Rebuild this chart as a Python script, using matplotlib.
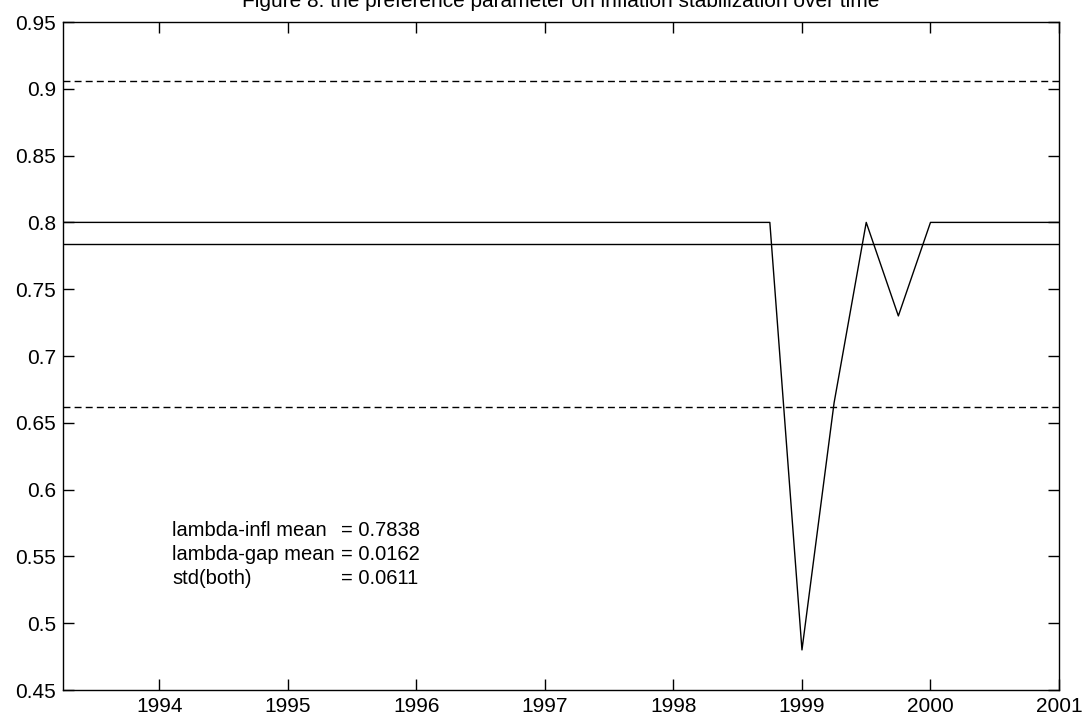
import numpy as np
import matplotlib
matplotlib.use("Agg")
import matplotlib.pyplot as plt
from matplotlib.ticker import FormatStrFormatter, FixedLocator
import matplotlib.transforms as mtransforms

# datos trimestrales 1993.25 .. 2001.00
trimestres = [1993.25, 1993.5, 1993.75, 1994.0, 1994.25, 1994.5, 1994.75, 1995.0,
              1995.25, 1995.5, 1995.75, 1996.0, 1996.25, 1996.5, 1996.75, 1997.0,
              1997.25, 1997.5, 1997.75, 1998.0, 1998.25, 1998.5, 1998.75, 1999.0,
              1999.25, 1999.5, 1999.75, 2000.0, 2000.25, 2000.5, 2000.75, 2001.0]
lambda_infl = [0.80] * 23 + [0.48, 0.665, 0.80, 0.73, 0.80, 0.80, 0.80, 0.80, 0.80]

media = 0.7838
banda_sup = 0.9060
banda_inf = 0.6616

anios = [1994, 1995, 1996, 1997, 1998, 1999, 2000, 2001]
yticks = [0.45, 0.5, 0.55, 0.6, 0.65, 0.7, 0.75, 0.8, 0.85, 0.9, 0.95]

etiquetas = ["lambda-infl mean", "lambda-gap mean", "std(both)"]
valores = ["= 0.7838", "= 0.0162", "= 0.0611"]

plt.rcParams['font.family'] = ['Liberation Sans', 'DejaVu Sans']

fig = plt.figure(figsize=(10.85, 7.21), dpi=100)
ax = fig.add_axes([63 / 1085, 1 - 690 / 721, (1059 - 63) / 1085, (690 - 22) / 721])

ax.plot(trimestres, lambda_infl, color='black', lw=1.0)
ax.axhline(media, color='black', lw=1.0)
ax.axhline(banda_sup, color='black', lw=1.0, dashes=(5, 3))
ax.axhline(banda_inf, color='black', lw=1.0, dashes=(5, 3))

ax.set_xlim(1993.25, 2001)
ax.set_ylim(0.45, 0.95)
ax.xaxis.set_major_locator(FixedLocator(anios))
ax.yaxis.set_major_locator(FixedLocator(yticks))
ax.xaxis.set_major_formatter(FormatStrFormatter('%d'))
ax.set_yticklabels(['%g' % v for v in yticks])
ax.tick_params(direction='in', length=8, width=1, top=True, right=True,
               labelsize=15, pad=5)
for s in ax.spines.values():
    s.set_linewidth(1.0)

for i, (et, va) in enumerate(zip(etiquetas, valores)):
    yy = (690 - (531 + 23.5 * i)) / 668
    ax.text((172 - 63) / 996, yy, et, transform=ax.transAxes, fontsize=14.5,
            va='center', ha='left')
    ax.text((341 - 63) / 996, yy, va, transform=ax.transAxes, fontsize=14.5,
            va='center', ha='left')

tr = mtransforms.offset_copy(ax.transAxes, fig=fig, x=0, y=15, units='dots')
ax.text(0.5, 1.0, "Figure 8: the preference parameter on inflation stabilization over time",
        transform=tr, ha='center', va='baseline', fontsize=15, clip_on=False)

fig.savefig('out.png', dpi=100)
